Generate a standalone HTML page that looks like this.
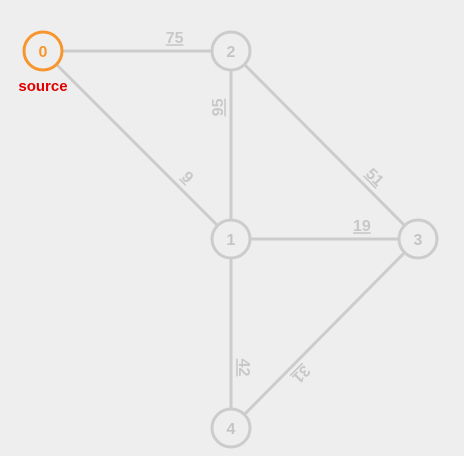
<!DOCTYPE html>
<html><head><meta charset="utf-8"><style>
html,body{margin:0;padding:0;background:#eeeeee;}
svg{display:block;font-family:"Liberation Sans","DejaVu Sans",sans-serif;}
</style></head><body>
<svg id="g" width="464" height="456" viewBox="0 0 464 456">
<rect width="464" height="456" fill="#eeeeee"/>
<g id="edges"></g><g id="nodes"></g>
<text x="43" y="91" text-anchor="middle" font-size="15" font-weight="bold" fill="#e00000">source</text>
</svg>
<script>
const nodeIds=[0,1,2,3,4];
const nodeX=[43,231,231,418,231];
const nodeY=[51,239,51,239,428];
const edgeFrom=[0,2,0,2,1,1,3];
const edgeTo=[2,1,1,3,3,4,4];
const edgeWeights=[75,95,9,51,19,42,31];
const labelT=[0.70,0.30,0.72,0.72,0.70,0.68,0.67];
const labelOff=[-12,12,-12,-12,-12,-12,-12];
const labelRot=[0,-90,45,45,0,90,135];
const NS='http://www.w3.org/2000/svg';
const eg=document.getElementById('edges'),ng=document.getElementById('nodes');
for(let i=0;i<edgeWeights.length;i++){
  const a=edgeFrom[i],b=edgeTo[i];
  const x1=nodeX[a],y1=nodeY[a],x2=nodeX[b],y2=nodeY[b];
  const l=document.createElementNS(NS,'line');
  l.setAttribute('x1',x1);l.setAttribute('y1',y1);l.setAttribute('x2',x2);l.setAttribute('y2',y2);
  l.setAttribute('stroke','#cccccc');l.setAttribute('stroke-width','3');
  
  
  eg.appendChild(l);
  const dx=x2-x1,dy=y2-y1,len=Math.hypot(dx,dy);
  let nx=dy/len,ny=-dx/len;
  if(ny>0||(ny===0&&nx<0)){nx=-nx;ny=-ny;}
  const t=labelT[i];
  let px=x1+dx*t,py=y1+dy*t;
  const o=labelOff[i];
  if(labelRot[i]===-90){px-=12;}
  else if(labelRot[i]===90){px+=12;}
  else if(labelRot[i]===135){px+=8;py+=8;}
  else {px+=nx*(-o);py+=ny*(-o);}
  const tx=document.createElementNS(NS,'text');
  tx.setAttribute('x',0);tx.setAttribute('y',0);
  tx.setAttribute('transform','translate('+px+','+py+') rotate('+labelRot[i]+')');
  tx.setAttribute('text-anchor','middle');tx.setAttribute('dominant-baseline','middle');
  tx.setAttribute('font-size','16');tx.setAttribute('font-weight','bold');
  tx.setAttribute('fill','#c8c8c8');tx.setAttribute('text-decoration','underline');
  tx.textContent=edgeWeights[i];
  
  
  eg.appendChild(tx);
}
for(let i=0;i<nodeIds.length;i++){
  const c=document.createElementNS(NS,'circle');
  c.setAttribute('cx',nodeX[i]);c.setAttribute('cy',nodeY[i]);c.setAttribute('r','19');
  c.setAttribute('fill','#eeeeee');c.setAttribute('stroke',i===0?'#f7962f':'#cccccc');c.setAttribute('stroke-width','3');
  
  
  ng.appendChild(c);
  const t=document.createElementNS(NS,'text');
  t.setAttribute('x',nodeX[i]);t.setAttribute('y',nodeY[i]+6);t.setAttribute('text-anchor','middle');
  t.setAttribute('font-size','16');t.setAttribute('font-weight','bold');
  t.setAttribute('fill',i===0?'#f7962f':'#c4c4c4');
  t.textContent=nodeIds[i];
  
  
  ng.appendChild(t);
}
</script>
</body></html>
